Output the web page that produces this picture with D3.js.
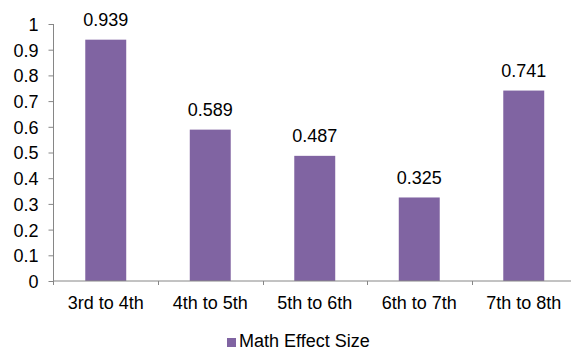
<!DOCTYPE html>
<html>
<head>
<meta charset="utf-8">
<script src="https://cdn.jsdelivr.net/npm/d3@7"></script>
<style>
  html, body { margin: 0; padding: 0; background: #fff; }
  svg { display: block; font-family: "Liberation Sans", Arial, sans-serif; }
</style>
</head>
<body>
<svg id="chart" width="571" height="351"></svg>
<script>
// Grade transitions and their math effect sizes
const categories = ["3rd to 4th", "4th to 5th", "5th to 6th", "6th to 7th", "7th to 8th"];
const mathEffectSize = [0.939, 0.589, 0.487, 0.325, 0.741];
const yTicks = [0, 0.1, 0.2, 0.3, 0.4, 0.5, 0.6, 0.7, 0.8, 0.9, 1];
const seriesName = "Math Effect Size";

const svg = d3.select("#chart");
const axisColor = "#868686";
const barColor = "#8064A2";
const fontSize = 18;

const plot = { left: 53.5, right: 576, top: 24, bottom: 281 };

const x = d3.scaleBand()
  .domain(categories)
  .range([plot.left, plot.right])
  .paddingInner(0.608)
  .paddingOuter(0.304);

const y = d3.scaleLinear()
  .domain([0, 1])
  .range([plot.bottom, plot.top]);

// Bars
svg.append("g")
  .selectAll("rect")
  .data(categories)
  .join("rect")
  .attr("x", d => x(d))
  .attr("y", (d, i) => y(mathEffectSize[i]))
  .attr("width", x.bandwidth())
  .attr("height", (d, i) => y(0) - y(mathEffectSize[i]))
  .attr("fill", barColor);

// Value labels
svg.append("g")
  .selectAll("text")
  .data(categories)
  .join("text")
  .attr("x", d => x(d) + x.bandwidth() / 2)
  .attr("y", (d, i) => y(mathEffectSize[i]) - 13.5)
  .attr("text-anchor", "middle")
  .attr("font-size", fontSize)
  .attr("fill", "#000")
  .text((d, i) => mathEffectSize[i].toFixed(3));

// Y axis
const yAxis = svg.append("g")
  .attr("transform", `translate(${plot.left},0)`)
  .call(d3.axisLeft(y).tickValues(yTicks).tickFormat(d => d3.format("")(+d.toFixed(1))).tickSize(5).tickPadding(10));
yAxis.select(".domain").attr("stroke", axisColor).attr("d", `M0,${plot.top}V${plot.bottom + 4}`);
yAxis.selectAll(".tick line").attr("stroke", axisColor);
yAxis.selectAll(".tick text")
  .attr("font-size", fontSize)
  .attr("font-family", "Liberation Sans, Arial, sans-serif")
  .attr("fill", "#000")
  .attr("dy", "0.36em");

// X axis: line with tick marks at category boundaries
const xAxis = svg.append("g").attr("transform", `translate(0,${plot.bottom})`);
xAxis.append("line")
  .attr("x1", plot.left).attr("x2", plot.right)
  .attr("stroke", axisColor);
const boundaries = categories.map(d => x(d) - x.step() * x.paddingInner() / 2);
xAxis.selectAll("line.tick")
  .data(boundaries)
  .join("line")
  .attr("class", "tick")
  .attr("x1", d => Math.round(d) + 0.5).attr("x2", d => Math.round(d) + 0.5)
  .attr("y1", 0).attr("y2", 4)
  .attr("stroke", axisColor);
xAxis.selectAll("text")
  .data(categories)
  .join("text")
  .attr("x", d => x(d) + x.bandwidth() / 2)
  .attr("y", 27.5)
  .attr("text-anchor", "middle")
  .attr("font-size", fontSize)
  .attr("fill", "#000")
  .text(d => d);

// Legend
const legend = svg.append("g").attr("transform", "translate(227,338)");
legend.append("rect")
  .attr("width", 9).attr("height", 9)
  .attr("fill", barColor);
legend.append("text")
  .attr("x", 12).attr("y", 9)
  .attr("font-size", fontSize)
  .attr("fill", "#000")
  .text(seriesName);
</script>
</body>
</html>
